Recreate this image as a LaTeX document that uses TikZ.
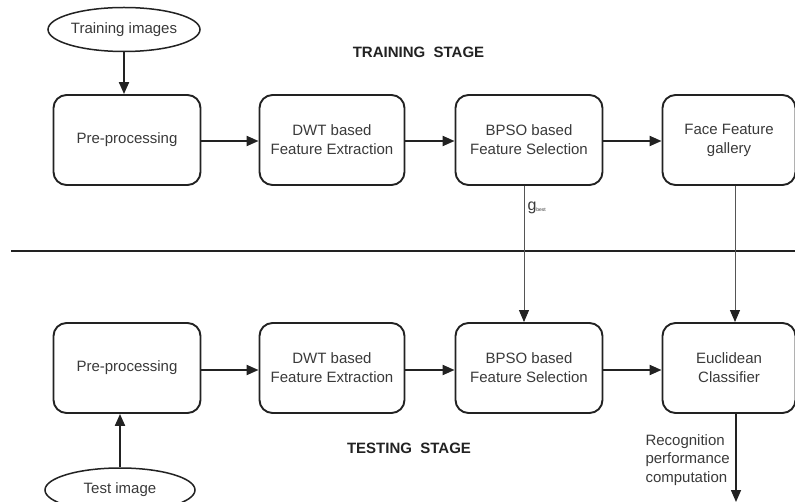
\documentclass[tikz,border=0pt]{standalone}
\usepackage{fontspec}
\setmainfont{Liberation Sans}
\usetikzlibrary{arrows.meta,shapes.geometric,calc}
\definecolor{ink}{HTML}{222222}
\definecolor{txt}{HTML}{3A3A3A}
\definecolor{wire}{HTML}{555555}
\tikzset{
  stagebox/.style={draw=ink,line width=1.9pt,rounded corners=13pt,
    minimum width=147pt,minimum height=90pt,align=center,text=txt,
    font=\fontsize{15}{19}\selectfont,inner sep=0pt},
  source/.style={draw=ink,ellipse,line width=1.5pt,minimum width=152pt,
    minimum height=44pt,inner sep=0pt,text=txt,font=\fontsize{15}{18}\selectfont},
  flow/.style={draw=ink,line width=2pt,-{Triangle[length=12pt,width=10pt]}},
  link/.style={draw=wire,line width=1pt,
    arrows={-{Triangle[length=12pt,width=10pt,fill=ink,color=ink]}}},
  heading/.style={font=\bfseries\fontsize{15}{18}\selectfont,text=ink},
  note/.style={text=txt,font=\fontsize{15}{18.5}\selectfont}
}
\begin{document}
\begin{tikzpicture}[x=1pt,y=-1pt]
\useasboundingbox (0,0) rectangle (795,502);
\clip (0,0) rectangle (795,502);
\fill[white] (0,0) rectangle (795,502);

% training row
\node[source] (trimg) at (124,29.5) {Training images};
\node[stagebox] (pre1) at (127,140) {Pre-processing};
\node[stagebox,minimum width=145pt] (dwt1) at (332,140) {DWT based\\Feature Extraction};
\node[stagebox] (bps1) at (529,140) {BPSO based\\Feature Selection};
\node[stagebox,minimum width=133pt] (gal) at (729,140) {Face Feature\\gallery};
\node[heading] (trhead) at (418.5,52) {TRAINING~~STAGE};

% separator between the two stages
\coordinate (sepL) at (11,251);
\coordinate (sepR) at (800,251);
\draw[ink,line width=2.5pt] (sepL) -- (sepR);

% testing row
\node[stagebox] (pre2) at (127,368) {Pre-processing};
\node[stagebox,minimum width=145pt] (dwt2) at (332,368) {DWT based\\Feature Extraction};
\node[stagebox] (bps2) at (529,368) {BPSO based\\Feature Selection};
\node[stagebox,minimum width=133pt] (euc) at (729,368) {Euclidean\\Classifier};
\node[heading] (tehead) at (409,448) {TESTING~~STAGE};
\node[source,minimum width=150pt] (teimg) at (120,490) {Test image};
\coordinate (out) at (736,502);

% connectors
\draw[flow] (trimg.south) -- (trimg.south |- pre1.north);
\draw[flow] (pre1.east |- 0,141) -- (dwt1.west |- 0,141);
\draw[flow] (dwt1.east |- 0,141) -- (bps1.west |- 0,141);
\draw[flow] (bps1.east |- 0,141) -- (gal.west |- 0,141);

\draw[flow] (teimg.north) -- (pre2.south -| teimg.north);
\draw[flow] (pre2.east |- 0,370) -- (dwt2.west |- 0,370);
\draw[flow] (dwt2.east |- 0,370) -- (bps2.west |- 0,370);
\draw[flow] (bps2.east |- 0,370) -- (euc.west |- 0,370);

\draw[link] ([xshift=-5pt]bps1.south) -- ([xshift=-5pt]bps2.north)
  node[pos=0.16,anchor=west,text=txt,inner sep=3pt] (gb)
  {\fontsize{16}{16}\selectfont g\raisebox{-1pt}{\fontsize{5}{6}\selectfont best}};
\draw[link] ([xshift=6pt]gal.south) -- ([xshift=6pt]euc.north);
\draw[flow,line width=1.5pt] (euc.south -| out) -- (out);
\node[note,anchor=west,align=left] (rec) at (642,460)
  {Recognition\\performance\\computation};
\end{tikzpicture}
\end{document}
